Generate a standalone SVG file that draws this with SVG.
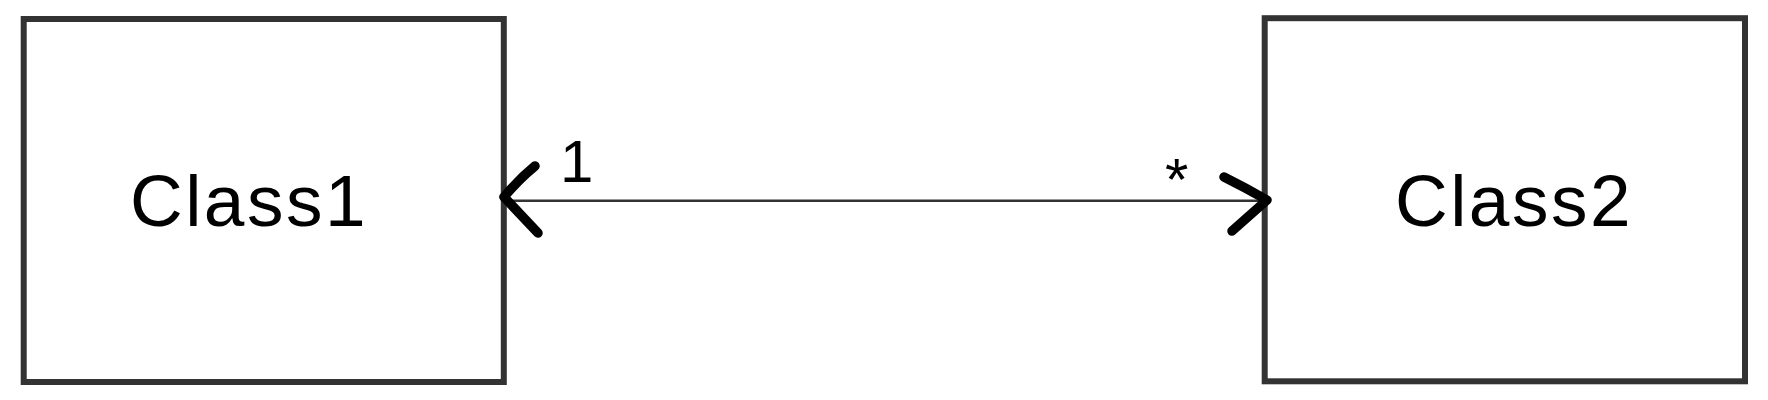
<svg xmlns="http://www.w3.org/2000/svg" width="1768" height="400" viewBox="0 0 1768 400">
  <style>
    .box { fill: #ffffff; stroke: #333333; stroke-width: 6; }
    .name { font-family: "Liberation Sans", Arial, sans-serif; font-size: 73px; letter-spacing: 2.5px; fill: #000000; text-anchor: middle; }
    .mult { font-family: "Liberation Sans", Arial, sans-serif; font-size: 60px; fill: #000000; }
    .line { stroke: #333333; stroke-width: 2.5; fill: none; }
    .head { stroke: #000000; stroke-width: 9.5; fill: none; stroke-linecap: round; stroke-linejoin: round; }
  </style>
  <rect width="1768" height="400" fill="#ffffff"/>
  <g id="class1">
    <rect class="box" x="23.7" y="19" width="480.1" height="363"/>
    <text class="name" x="249" y="226">Class1</text>
  </g>
  <g id="class2">
    <rect class="box" x="1264.7" y="18.2" width="480.3" height="363.1"/>
    <text class="name" x="1514" y="226">Class2</text>
  </g>
  <g id="connectors">
    <line class="line" x1="504" y1="200.7" x2="1265" y2="200.7"/>
    <path class="head" d="M535,166 Q518,180 504,197 Q522,216 538,233"/>
    <path class="head" d="M1224,177 Q1246,188 1267,200 Q1250,215 1232,231"/>
    <text class="mult" x="560" y="181.7">1</text>
    <text class="mult" x="1165" y="199.5">*</text>
  </g>
</svg>
